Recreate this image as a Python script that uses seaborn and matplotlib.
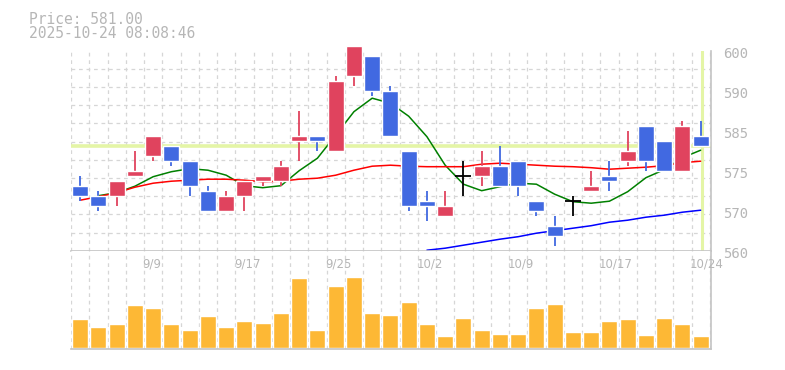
import numpy as np
import pandas as pd
import matplotlib
matplotlib.use("Agg")
import matplotlib.pyplot as plt
import matplotlib.transforms as mtransforms
import seaborn as sns

# trading days shown on the chart
DATES = ["9/3", "9/4", "9/5", "9/8", "9/9", "9/10", "9/11", "9/12", "9/16", "9/17",
         "9/18", "9/19", "9/22", "9/24", "9/25", "9/26", "9/29", "9/30", "10/1", "10/2",
         "10/3", "10/6", "10/7", "10/8", "10/9", "10/10", "10/14", "10/15", "10/16", "10/17",
         "10/20", "10/21", "10/22", "10/23", "10/24"]
LABEL_EVERY = 5
LABEL_START = 4

OPEN = [573, 571, 571, 575, 579, 581, 578, 572, 568, 571, 574, 574, 582, 583, 580, 595, 599, 592,
        580, 570, 567, 575, 575, 577, 578, 570, 565, 570, 572, 575, 578, 585, 582, 576, 583]
CLOSE = [571, 569, 574, 576, 583, 578, 573, 568, 571, 574, 575, 577, 583, 582, 594, 601, 592, 583,
         569, 569, 569, 575, 577, 573, 573, 568, 563, 570, 573, 574, 580, 578, 576, 585, 581]
HIGH = [575, 572, 574, 580, 583, 581, 578, 573, 572, 574, 575, 578, 588, 583, 595, 601, 599, 593,
        580, 572, 572, 578, 580, 581, 578, 570, 567, 571, 576, 578, 584, 585, 582, 586, 586]
LOW = [570, 568, 569, 575, 578, 577, 571, 568, 568, 568, 573, 573, 578, 580, 580, 593, 591, 583,
       568, 566, 567, 571, 573, 573, 571, 567, 561, 567, 572, 572, 577, 576, 576, 576, 581]

# volume in hundreds of shares
VOLUME = [87, 63, 72, 129, 120, 72, 54, 96, 63, 81, 75, 105, 210, 54, 186, 213, 105, 99,
          138, 72, 36, 90, 54, 42, 42, 120, 132, 48, 48, 81, 87, 39, 90, 72, 36]

# moving averages (None = not drawn)
MA_SHORT = [None, 571.0, 571.6, 572.9, 574.8, 575.8, 576.4, 576.1, 575.1, 573.0, 572.6, 573.0,
            576.0, 578.5, 583.1, 587.8, 590.5, 589.5, 586.9, 582.8, 577.1, 573.3, 572.0, 572.8,
            573.5, 573.3, 571.3, 569.8, 569.5, 569.9, 571.8, 574.6, 576.2, 578.6, 580.1]
MA_MID = [570.1, 570.8, 571.6, 572.7, 573.5, 573.9, 574.1, 574.3, 574.3, 574.1, 573.8, 573.9,
          574.3, 574.5, 575.1, 576.1, 576.9, 577.1, 576.9, 576.8, 576.8, 576.8, 577.3, 577.5,
          577.3, 577.1, 576.9, 576.8, 576.6, 576.3, 576.5, 576.7, 577.0, 577.6, 577.9]
MA_LONG = [None] * 19 + [560.1, 560.5, 561.1, 561.7, 562.3, 562.8, 563.5, 564.0, 564.5,
                         565.0, 565.7, 566.1, 566.7, 567.1, 567.7, 568.1]

LAST_PRICE = 581.00
STAMP = "2025-10-24 08:08:46"
YTICKS = [560, 568, 576, 584, 592, 600]
YLABELS = ["560", "570", "575", "585", "590", "600"]

UP = "#e0435e"
DOWN = "#4169e1"
VOL_COLOR = "#fdb835"
LIME = "#e4f5a6"
TEXT = "#b6b6b6"
GRID = "#d6d6d6"
FRAME = "#c4c4c4"

W, H = 785, 370


def style_axis(ax):
    n = len(DATES)
    ax.set_xlim(-0.52, n - 0.45)
    ax.set_xticks(np.arange(-0.5, n, 1), minor=True)
    ax.set_xticks([])
    ax.grid(False)
    ax.grid(which="minor", axis="x", color=GRID, ls=(0, (3, 3)), lw=0.9)
    ax.tick_params(which="both", length=0)
    for side in ["left", "top"]:
        ax.spines[side].set_visible(False)
    for side in ["right", "bottom"]:
        ax.spines[side].set_color(FRAME)
        ax.spines[side].set_linewidth(1.2)
    ax.set_xlabel("")
    ax.set_ylabel("")


def main():
    sns.set_style("white")
    plt.rcParams["font.family"] = ["DejaVu Sans Mono", "DejaVu Sans"]

    fig = plt.figure(figsize=(W / 100, H / 100), dpi=100)
    ax = fig.add_axes([70.7 / W, 119.3 / H, 640 / W, 200 / H])
    axv = fig.add_axes([70.7 / W, 20.7 / H, 640 / W, 98.6 / H])

    idx = np.arange(len(DATES))
    o, c, hi, lo = map(np.array, (OPEN, CLOSE, HIGH, LOW))

    # price panel
    style_axis(ax)
    ax.set_ylim(560, 600)
    ax.set_yticks(np.linspace(560, 600, 12), minor=True)
    ax.grid(which="minor", axis="y", color=GRID, ls=(0, (3, 3)), lw=0.9)
    ax.yaxis.tick_right()
    ax.set_yticks(YTICKS, YLABELS)
    ax.tick_params(axis="y", which="major", pad=9, labelsize=10, labelcolor=TEXT)
    for lab in ax.get_yticklabels():
        lab.set_transform(lab.get_transform() + mtransforms.ScaledTranslation(0, -2 / 100, fig.dpi_scale_trans))

    ax.axhline(LAST_PRICE, color=LIME, lw=2.6, zorder=1)
    ax.axvline(idx[-1] + 0.08, color=LIME, lw=2.2, zorder=1)

    ma = pd.DataFrame({"idx": np.tile(idx, 3),
                       "value": MA_SHORT + MA_MID + MA_LONG,
                       "series": ["short"] * len(idx) + ["mid"] * len(idx) + ["long"] * len(idx)})
    ma = ma.dropna()
    sns.lineplot(data=ma, x="idx", y="value", hue="series",
                 palette={"short": "green", "mid": "red", "long": "blue"},
                 estimator=None, legend=False, lw=1.1, ax=ax, zorder=2)

    up = c > o
    down = c < o
    flat = c == o
    for mask, col in [(up, UP), (down, DOWN)]:
        ax.vlines(idx[mask], lo[mask], hi[mask], color=col, lw=1.3, zorder=3, clip_on=False)
        ax.bar(idx[mask], (np.maximum(o, c) - np.minimum(o, c))[mask],
               bottom=np.minimum(o, c)[mask], width=0.88, color=col, zorder=4, clip_on=False)
    ax.vlines(idx[flat], lo[flat], hi[flat], color="black", lw=1.3, zorder=3)
    ax.hlines(c[flat], idx[flat] - 0.44, idx[flat] + 0.44, color="black", lw=1.3, zorder=3)
    ax.set_xlabel("")
    ax.set_ylabel("")

    # volume panel
    sns.barplot(x=idx, y=VOLUME, color=VOL_COLOR, saturation=1, width=0.88, ax=axv, zorder=2)
    style_axis(axv)
    axv.set_ylim(-4, 292)
    axv.set_yticks([])
    trans = mtransforms.blended_transform_factory(axv.transData, axv.transAxes)
    for i in range(LABEL_START, len(DATES), LABEL_EVERY):
        axv.text(i - 0.58, 0.935, DATES[i], transform=trans, ha="left", va="top",
                 fontsize=8.5, color=TEXT, family="DejaVu Sans")

    fig.text(29 / W, 1 - 23.5 / H, f"Price: {LAST_PRICE:.2f}", va="baseline",
             fontsize=10.5, color=TEXT)
    fig.text(29 / W, 1 - 37.5 / H, STAMP, va="baseline", fontsize=10.5, color=TEXT)

    fig.savefig("out.png", dpi=100, facecolor="white")


if __name__ == "__main__":
    main()
